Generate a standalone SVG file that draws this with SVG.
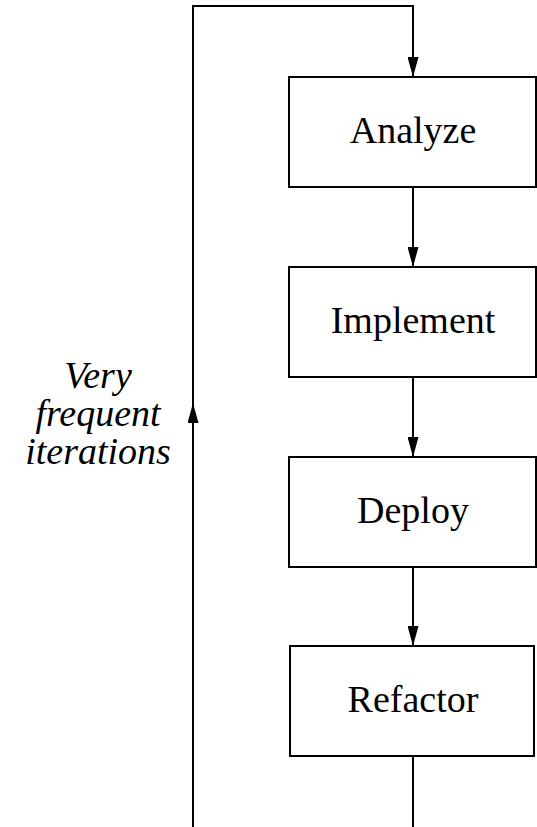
<svg xmlns="http://www.w3.org/2000/svg" width="537" height="827" viewBox="0 0 537 827">
<style>
.box{fill:#fff;stroke:#000;stroke-width:2}
.lbl{font-family:"Liberation Serif","Times New Roman",serif;font-size:38px;text-anchor:middle;fill:#000}
.it{font-style:italic}
.edge{fill:none;stroke:#000;stroke-width:2}
</style>
<defs>
<marker id="ah" markerUnits="userSpaceOnUse" markerWidth="20" markerHeight="11" refX="20" refY="5.5" orient="auto" viewBox="0 0 20 11">
<path d="M0,0 L20,5.5 L0,11 Z" fill="#000"/>
</marker>
</defs>
<rect width="537" height="827" fill="#fff"/>
<g id="connectors">
<path class="edge" d="M193,827 V6 H413 V77" marker-end="url(#ah)"/>
<path class="edge" d="M193,827 V403" marker-end="url(#ah)"/>
<path class="edge" d="M413,187 V267" marker-end="url(#ah)"/>
<path class="edge" d="M413,377 V457" marker-end="url(#ah)"/>
<path class="edge" d="M413,567 V646" marker-end="url(#ah)"/>
<path class="edge" d="M413,756 V827"/>
</g>
<g id="analyze"><rect class="box" x="289" y="77" width="247" height="110"/><text class="lbl" x="413" y="143">Analyze</text></g>
<g id="implement"><rect class="box" x="289" y="267" width="247" height="110"/><text class="lbl" x="413" y="333">Implement</text></g>
<g id="deploy"><rect class="box" x="289" y="457" width="247" height="110"/><text class="lbl" x="413" y="523">Deploy</text></g>
<g id="refactor"><rect class="box" x="290" y="646" width="244" height="110"/><text class="lbl" x="413" y="712">Refactor</text></g>
<g id="label"><text class="lbl it" x="98" y="388">Very</text><text class="lbl it" x="98" y="426">frequent</text><text class="lbl it" x="98" y="464">iterations</text></g>
</svg>
